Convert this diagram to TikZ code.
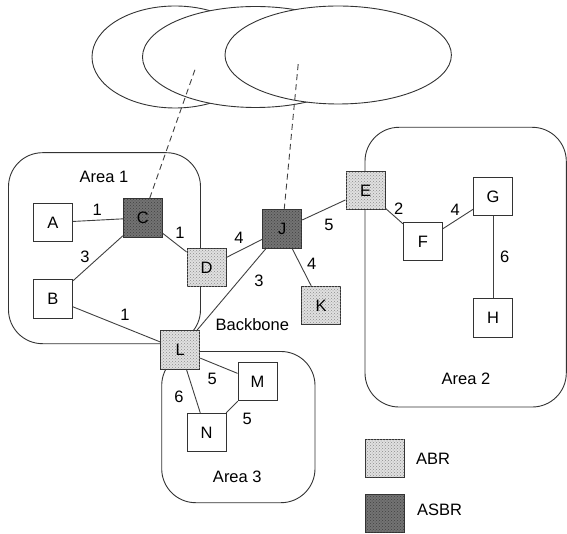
\documentclass[tikz,border=0pt]{standalone}
\usepackage{fontspec}
\setmainfont{Liberation Sans}
\usetikzlibrary{patterns}
\begin{document}
\begin{tikzpicture}[x=1pt,y=-1pt,
  txt/.style={font=\fontsize{16.5}{19}\selectfont, inner sep=0pt},
  rtr/.style={txt, draw=black!80, line width=0.9pt, fill=white, minimum width=39pt, minimum height=38.5pt},
  abr/.style={rtr, fill=black!12, postaction={pattern=crosshatch dots, pattern color=black!45}},
  asbr/.style={rtr, fill=black!55, postaction={pattern=crosshatch dots, pattern color=black!75}},
  area/.style={draw=black!80, line width=0.9pt, rounded corners=34pt},
  cloud/.style={draw=black!80, line width=0.9pt, fill=white},
  link/.style={draw=black!75, line width=0.9pt},
  ext/.style={draw=black!75, line width=0.9pt, dashed, dash pattern=on 6pt off 4pt},
  lbl/.style={txt}
]
\useasboundingbox (0,0) rectangle (567,534);
% external clouds
\path[cloud] (175,57) ellipse [x radius=83pt, y radius=51pt];
\path[cloud] (255.5,57) ellipse [x radius=113pt, y radius=50.5pt];
\path[cloud] (338.2,55) ellipse [x radius=113.2pt, y radius=49pt];
% areas
\path[area] (8.5,152.7) rectangle (200.5,343.7);
\path[area] (365,127.3) rectangle (566.3,407);
\path[area] (161.7,351.5) rectangle (315,502.7);
\node[txt] (a1) at (104,177) {Area 1};
\node[txt] (a2) at (466,378.7) {Area 2};
\node[txt] (a3) at (237.3,476.7) {Area 3};
\node[txt] (bb) at (252.3,324.7) {Backbone};
% routers
\node[rtr]  (A) at (53,222.5) {A};
\node[rtr]  (B) at (53,298.8) {B};
\node[asbr] (C) at (142.8,217.8) {C};
\node[abr]  (D) at (206.5,267.5) {D};
\node[abr]  (E) at (365.5,190.7) {E};
\node[rtr]  (F) at (423,241.5) {F};
\node[rtr]  (G) at (493,196.5) {G};
\node[rtr]  (H) at (493,318) {H};
\node[asbr] (J) at (282.3,229.2) {J};
\node[abr]  (K) at (321.2,305.5) {K};
\node[abr]  (L) at (180.3,350) {L};
\node[rtr]  (M) at (257.5,381.5) {M};
\node[rtr]  (N) at (206.5,432.5) {N};
\coordinate (xc) at (196,66.7);
\coordinate (xj) at (298.3,63);
% links (drawn behind nodes)
\begin{scope}[on background layer/.try]
\end{scope}
\draw[ext] (C) -- (xc);
\draw[ext] (J) -- (xj);
\draw[link] (A) -- (C);
\draw[link] (C) -- (B);
\draw[link] (C) -- (D);
\draw[link] (B) -- (L);
\draw[link] (D) -- (J);
\draw[link] (J) -- (L);
\draw[link] (J) -- (E);
\draw[link] (J) -- (K);
\draw[link] (E) -- (F);
\draw[link] (F) -- (G);
\draw[link] (G) -- (H);
\draw[link] (L) -- (M);
\draw[link] (L) -- (N);
\draw[link] (M) -- (N);
% link costs
\node[lbl] (cAC) at (97.3,210.3) {1};
\node[lbl] (cCB) at (85,257.3) {3};
\node[lbl] (cCD) at (180,233) {1};
\node[lbl] (cBL) at (125,315.3) {1};
\node[lbl] (cDJ) at (239,238) {4};
\node[lbl] (cJL) at (259,281.3) {3};
\node[lbl] (cJE) at (329,224.7) {5};
\node[lbl] (cJK) at (311.7,264) {4};
\node[lbl] (cEF) at (398.7,208.7) {2};
\node[lbl] (cFG) at (455.3,210.3) {4};
\node[lbl] (cGH) at (504.7,257.3) {6};
\node[lbl] (cLM) at (212.3,378.7) {5};
\node[lbl] (cLN) at (179,396.7) {6};
\node[lbl] (cMN) at (247.3,418.7) {5};
% legend
\node[abr]  (lgA) at (384.5,458.5) {};
\node[asbr] (lgS) at (384.5,513.5) {};
\node[txt, anchor=west] (tA) at (416,458.7) {ABR};
\node[txt, anchor=west] (tS) at (417,510) {ASBR};
\end{tikzpicture}
\end{document}
